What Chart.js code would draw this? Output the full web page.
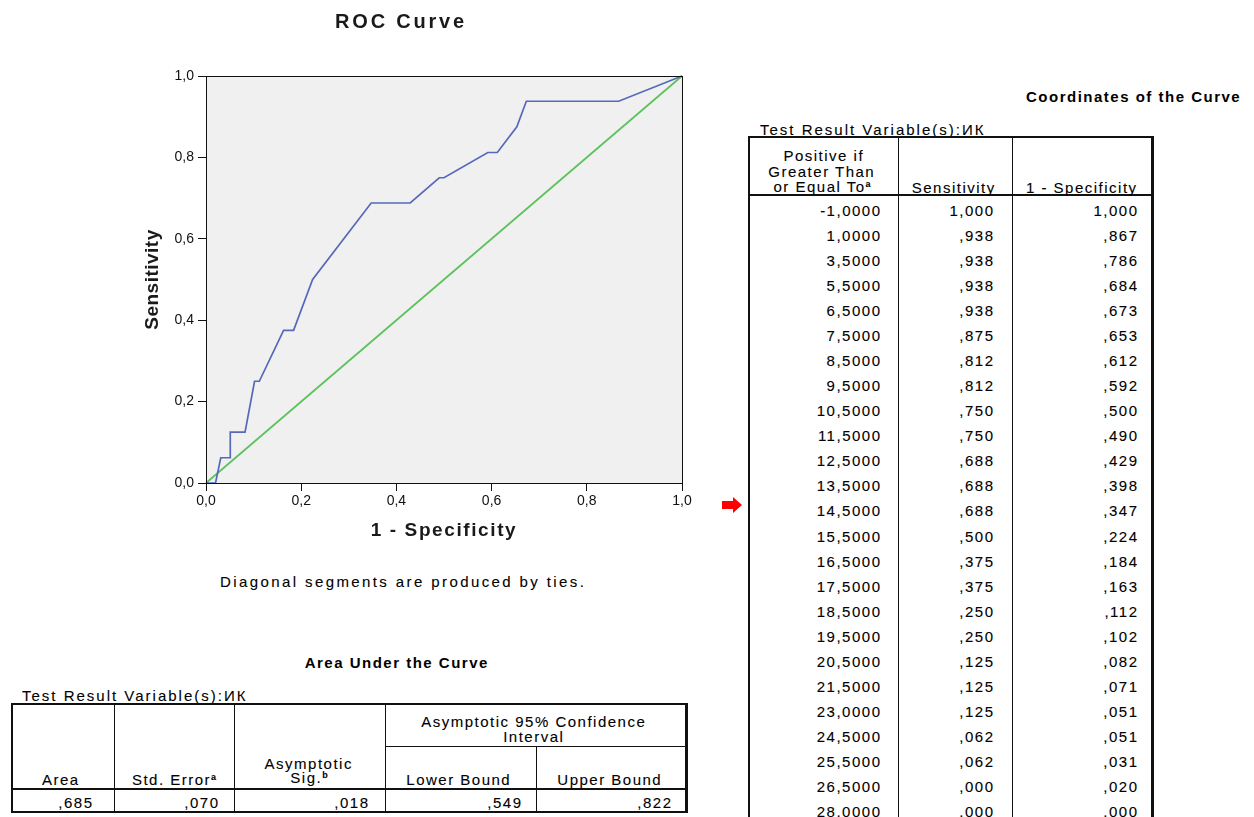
<!DOCTYPE html>
<html><head><meta charset="utf-8">
<script src="https://cdn.jsdelivr.net/npm/chart.js@4.4.1/dist/chart.umd.min.js"></script>
<style>
html,body{margin:0;padding:0;background:#fff;}
body{width:1254px;height:817px;position:relative;overflow:hidden;font-family:'Liberation Sans',Arial,sans-serif;color:#000;}
.t{position:absolute;white-space:nowrap;-webkit-text-stroke:0.1px #000;}
.l{position:absolute;background:#111;}
sup{font-size:9px;vertical-align:5px;line-height:0;font-weight:bold;}
</style></head><body>
<canvas id="roc" width="720" height="542" style="position:absolute;left:0;top:0;"></canvas>
<div id="ov"></div>
<script>
// ---------- data ----------
const cutoffs = [-1, 1, 3.5, 5.5, 6.5, 7.5, 8.5, 9.5, 10.5, 11.5, 12.5, 13.5, 14.5, 15.5, 16.5, 17.5, 18.5, 19.5, 20.5, 21.5, 23, 24.5, 25.5, 26.5, 28];
const sensitivity = [1.000, .938, .938, .938, .938, .875, .812, .812, .750, .750, .688, .688, .688, .500, .375, .375, .250, .250, .125, .125, .125, .062, .062, .000, .000];
const oneMinusSpecificity = [1.000, .867, .786, .684, .673, .653, .612, .592, .500, .490, .429, .398, .347, .224, .184, .163, .112, .102, .082, .071, .051, .051, .031, .020, .000];
const diagonalX = [0, 1];
const diagonalY = [0, 1];
const axisTickValues = [0, 0.2, 0.4, 0.6, 0.8, 1.0];
const aucLabels = ['Area', 'Std. Error', 'Asymptotic Sig.', 'Lower Bound', 'Upper Bound'];
const aucValues = [0.685, 0.070, 0.018, 0.549, 0.822];
const markedRow = 12; // 14,5000

// ---------- chart ----------
const FONT = "'Liberation Sans', Arial, sans-serif";
Chart.defaults.font.family = FONT;
const fmtTick = v => v.toFixed(1).replace('.', ',');

const framePlugin = {
  id: 'frame',
  beforeDraw(chart) {
    const {ctx, chartArea: a} = chart;
    ctx.save();
    ctx.fillStyle = '#f0f0f0';
    ctx.fillRect(a.left, a.top, a.right - a.left, a.bottom - a.top);
    ctx.restore();
  },
  afterDraw(chart) {
    const {ctx, chartArea: a} = chart;
    ctx.save();
    ctx.strokeStyle = '#111';
    ctx.lineWidth = 1;
    ctx.strokeRect(a.left + 0.5, a.top + 0.5, a.right - a.left, a.bottom - a.top);
    ctx.restore();
  }
};
const spacingPlugin = {
  id: 'spacing',
  afterLayout(chart) {
    const ctx = chart.ctx;
    const wrap = (obj, name, ls) => {
      if (!obj || obj['__w_' + name]) return;
      const orig = obj[name];
      obj[name] = function (...a) { ctx.letterSpacing = ls; try { return orig.apply(this, a); } finally { ctx.letterSpacing = '0px'; } };
      obj['__w_' + name] = true;
    };
    wrap(chart.scales.x, 'drawTitle', '1.6px');
    wrap(chart.scales.y, 'drawTitle', '0.5px');
    wrap(chart.titleBlock, 'draw', '2.8px');
  }
};

new Chart(document.getElementById('roc'), {
  type: 'scatter',
  data: {
    datasets: [
      {
        data: oneMinusSpecificity.map((x, i) => ({x, y: sensitivity[i]})),
        showLine: true, borderColor: '#5668b9', borderWidth: 1.7, pointRadius: 0, tension: 0, clip: false
      },
      {
        data: diagonalX.map((x, i) => ({x, y: diagonalY[i]})),
        showLine: true, borderColor: '#5cc25c', borderWidth: 1.7, pointRadius: 0, tension: 0, clip: false
      }
    ]
  },
  options: {
    responsive: false, animation: false, devicePixelRatio: 1,
    layout: {padding: {left: 120, right: 38, top: 0, bottom: 0}},
    plugins: {
      legend: {display: false}, tooltip: {enabled: false},
      title: {display: true, text: 'ROC Curve', color: '#1a1a1a', font: {size: 20, weight: 'bold'}, padding: {top: 10, bottom: 42}}
    },
    scales: {
      x: {
        type: 'linear', min: 0, max: 1,
        afterBuildTicks: s => { s.ticks = axisTickValues.map(v => ({value: v})); },
        ticks: {callback: v => fmtTick(v), color: '#111', font: {size: 14}, padding: 2, maxRotation: 0, autoSkip: false},
        grid: {drawOnChartArea: false, drawTicks: true, tickLength: 8, color: '#111'},
        border: {color: '#111', width: 1},
        title: {display: true, text: '1 - Specificity', color: '#1a1a1a', font: {size: 19, weight: 'bold'}, padding: 0},
        afterFit: s => { s.height = 59; }
      },
      y: {
        type: 'linear', min: 0, max: 1,
        afterBuildTicks: s => { s.ticks = axisTickValues.map(v => ({value: v})); },
        ticks: {callback: v => fmtTick(v), color: '#111', font: {size: 14}, padding: 4, autoSkip: false},
        grid: {drawOnChartArea: false, drawTicks: true, tickLength: 8, color: '#111'},
        border: {color: '#111', width: 1},
        title: {display: true, text: 'Sensitivity', color: '#1a1a1a', font: {size: 19, weight: 'bold'}, padding: {top: 21, bottom: 0}},
        afterFit: s => { s.width = 86; }
      }
    }
  },
  plugins: [framePlugin, spacingPlugin]
});

// ---------- tables ----------
const ov = document.getElementById('ov');
function txt(html, x, y, o = {}) {
  const fs = o.fs || 15, ls = (o.ls === undefined ? 1.5 : o.ls), al = o.al || 'left';
  const d = document.createElement('div');
  d.className = 't';
  d.innerHTML = html;
  d.style.fontSize = fs + 'px';
  d.style.lineHeight = fs + 'px';
  d.style.letterSpacing = ls + 'px';
  if (o.bold) { d.style.fontWeight = 'bold'; d.style.webkitTextStroke = '0px'; }
  d.style.top = (y - fs / 2) + 'px';
  if (al === 'left') d.style.left = x + 'px';
  else if (al === 'right') d.style.right = (1254 - x - ls) + 'px';
  else { d.style.left = (x + ls / 2) + 'px'; d.style.transform = 'translateX(-50%)'; }
  ov.appendChild(d);
}
function ln(x, y, w, h) {
  const d = document.createElement('div');
  d.className = 'l';
  d.style.left = x + 'px'; d.style.top = y + 'px'; d.style.width = w + 'px'; d.style.height = h + 'px';
  ov.appendChild(d);
}
const fmtCut = v => v.toFixed(4).replace('.', ',');
const fmt3 = v => { let s = v.toFixed(3).replace('.', ','); if (s.startsWith('0,')) s = s.slice(1); return s; };

// Diagonal note
txt('Diagonal segments are produced by ties.', 402, 581, {al: 'center', ls: 2.4});

// Coordinates of the Curve
txt('Coordinates of the Curve', 1026, 96, {bold: true});
txt('Test Result Variable(s):ИК', 760, 129, {ls: 2});
ln(748, 136, 406, 2);
ln(748, 136, 2, 700);
ln(898, 136, 1, 700);
ln(1012, 136, 1, 700);
ln(1151, 136, 3, 700);
ln(748, 194, 406, 2);
txt('Positive if', 823, 155, {al: 'center'});
txt('Greater Than', 821, 171, {al: 'center'});
txt('or Equal To<sup>a</sup>', 822, 186, {al: 'center'});
txt('Sensitivity', 953, 187, {al: 'center'});
txt('1 - Specificity', 1081, 187, {al: 'center'});
cutoffs.forEach((c, i) => {
  const y = 210 + i * 25.08;
  txt(fmtCut(c), 880, y, {al: 'right'});
  txt(fmt3(sensitivity[i]), 993, y, {al: 'right'});
  txt(fmt3(oneMinusSpecificity[i]), 1137, y, {al: 'right'});
});
// red arrow marker
(function () {
  const y = 210 + markedRow * 25.08 - 6;
  const s = document.createElementNS('http://www.w3.org/2000/svg', 'svg');
  s.setAttribute('width', '22'); s.setAttribute('height', '18');
  s.style.position = 'absolute'; s.style.left = '721px'; s.style.top = (y - 9) + 'px';
  s.innerHTML = '<polygon points="1,5 12,5 12,1 21,9 12,17 12,13 1,13" fill="#f00"/>';
  document.body.appendChild(s);
})();

// Area Under the Curve
txt('Area Under the Curve', 396, 662, {bold: true, al: 'center'});
txt('Test Result Variable(s):ИК', 22, 695, {ls: 2});
ln(11, 703, 677, 2);
ln(11, 703, 2, 110);
ln(114, 703, 1, 110);
ln(234, 703, 1, 110);
ln(385, 703, 1, 110);
ln(536, 746, 1, 67);
ln(385, 746, 301, 1);
ln(685, 703, 3, 110);
ln(11, 788, 677, 2);
ln(11, 811, 677, 2);
txt('Asymptotic 95% Confidence', 533, 721, {al: 'center'});
txt('Interval', 533, 736, {al: 'center'});
txt('Asymptotic', 308, 763, {al: 'center'});
txt('Sig.<sup>b</sup>', 309, 777, {al: 'center'});
txt(aucLabels[0], 60, 779, {al: 'center'});
txt(aucLabels[1] + '<sup>a</sup>', 174, 779, {al: 'center'});
txt(aucLabels[3], 458, 779, {al: 'center'});
txt(aucLabels[4], 609, 779, {al: 'center'});
const aucRight = [92, 218, 368, 521, 671];
aucValues.forEach((v, i) => txt(fmt3(v), aucRight[i], 802, {al: 'right'}));
</script>
</body></html>
